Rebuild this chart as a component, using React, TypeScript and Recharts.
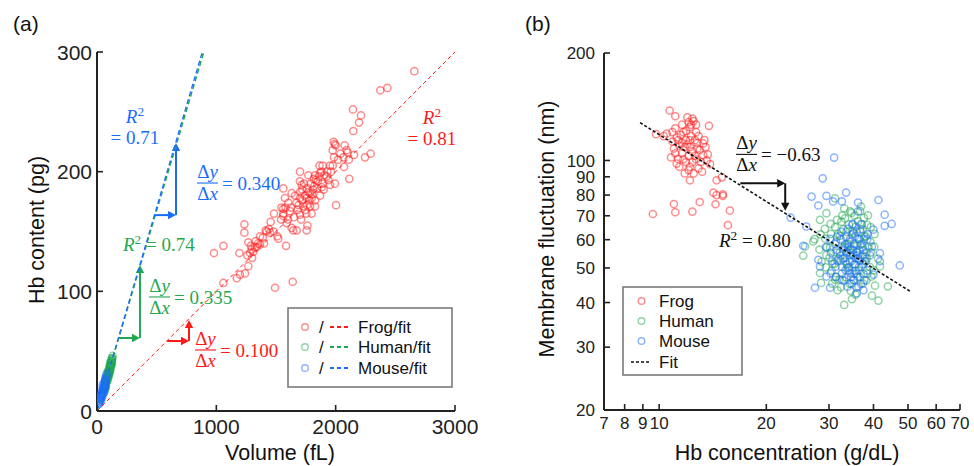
import React from 'react';
import { ScatterChart, Scatter, XAxis, YAxis, ReferenceLine, ReferenceDot, Legend, Customized } from 'recharts';

const RED = '#ff1a1a';
const GREEN = '#1fa84f';
const BLUE = '#1a6cff';
const BLACK = '#111111';
const AXIS = '#222222';
const SANS = "'Liberation Sans', Arial, sans-serif";
const SERIF = "'Liberation Serif', 'Times New Roman', serif";

// ---------- Panel (a): Hb content vs volume ----------
const volumeTicks = [0, 1000, 2000, 3000];
const hbContentTicks = [0, 100, 200, 300];

const frogVolHb: [number, number][] = [
  [2659, 284], [2374, 268], [2433, 270], [2145, 252], [2212, 247], [2196, 241], [2148, 234], [1983, 225], [1992, 223],
  [1975, 218], [2092, 218], [2100, 216], [2154, 214], [2246, 212], [2293, 215], [2064, 212], [1986, 212], [2070, 204],
  [2114, 194], [2003, 172], [1953, 205], [1891, 205], [1869, 199], [1827, 197], [1701, 200], [1771, 197], [1715, 189],
  [1833, 193], [1925, 196], [1561, 186], [1631, 182], [1701, 183], [1785, 182], [1883, 187], [1953, 189], [1994, 190],
  [1701, 178], [1757, 178], [1827, 176], [1603, 174], [1673, 174], [1729, 171], [1785, 171], [1827, 171], [1483, 165],
  [1561, 165], [1617, 167], [1701, 164], [1799, 165], [1542, 160], [1590, 157], [1631, 153], [1673, 151], [1757, 151],
  [1763, 155], [1450, 149], [1414, 151], [1366, 146], [1511, 146], [1519, 144], [1235, 156], [1235, 149], [1268, 141],
  [1324, 137], [1584, 138], [1282, 132], [1310, 133], [1193, 132], [1059, 138], [980, 132], [1059, 107], [1492, 103],
  [1640, 108], [1198, 114], [1171, 111], [1240, 115], [1268, 121], [1296, 135], [1338, 137], [1366, 139], [1422, 150],
  [1561, 169], [1645, 151], [1740, 180], [1760, 186], [1720, 176], [1790, 190], [1810, 185], [1850, 192], [1870, 180],
  [1905, 197], [1930, 200], [1680, 168], [1650, 162], [1600, 160], [1580, 170], [1700, 192], [1760, 172], [1820, 188],
  [1890, 190], [1960, 200], [2020, 210], [1560, 163], [1800, 178], [1745, 168], [1660, 180], [2000, 222], [1350, 140],
  [1390, 145], [1440, 152], [1300, 128], [1260, 130], [1720, 185], [1735, 190], [1770, 183], [1780, 176], [1805, 181],
  [1815, 194], [1845, 186], [1860, 196], [1880, 200], [1900, 185], [1755, 165], [1690, 172], [1710, 160], [1625, 170],
  [1575, 178], [1545, 170], [1865, 205], [1940, 193], [1975, 205], [2040, 215], [2075, 222], [2110, 210], [1480, 150],
  [1455, 158], [1400, 140], [1330, 142], [1290, 138],
];
const humanVolHb: [number, number][] = [
  [58, 16], [62, 18], [65, 19], [68, 21], [70, 20], [72, 22], [74, 23], [76, 24], [78, 25], [80, 24], [82, 26], [84, 27],
  [86, 28], [88, 27], [90, 29], [92, 30], [94, 31], [96, 30], [98, 32], [100, 33], [102, 32], [104, 34], [106, 35],
  [108, 34], [110, 36], [112, 37], [114, 38], [116, 37], [118, 39], [120, 40], [122, 41], [124, 42], [126, 43], [128, 44],
  [131, 46], [66, 23], [70, 25], [75, 21], [80, 28], [85, 25], [88, 31], [92, 27], [96, 34], [100, 30], [104, 37],
  [108, 38], [112, 34], [116, 41], [120, 38], [124, 44], [60, 20], [64, 16], [72, 19], [78, 27], [90, 33], [98, 29],
  [106, 32], [110, 40], [118, 42], [126, 40],
];
const mouseVolHb: [number, number][] = [
  [12, 6], [15, 7], [18, 6], [20, 8], [22, 9], [25, 8], [27, 10], [30, 11], [32, 10], [35, 12], [37, 13], [40, 14],
  [42, 13], [45, 15], [47, 16], [50, 17], [52, 16], [55, 18], [57, 19], [60, 20], [62, 21], [65, 22], [68, 24], [70, 25],
  [72, 26], [75, 27], [78, 29], [80, 31], [25, 12], [30, 14], [35, 9], [40, 17], [45, 12], [50, 20], [55, 15], [60, 24],
  [65, 19], [70, 28], [20, 11], [48, 22],
];
const frogFitA: [number, number][] = [[0, 0], [3000, 300]];
const humanFitA: [number, number][] = [[0, 0], [895, 300]];
const mouseFitA: [number, number][] = [[0, 0], [882, 300]];

// slope triangles (a): [x1,y1,x2,y2]
const blueArrowsA = [[478, 163.7, 662, 163.7], [662, 163.7, 662, 224]];
const greenArrowsA = [[176, 61, 360, 61], [360, 61, 360, 122]];
const redArrowsA = [[587, 58.5, 771, 58.5], [771, 58.5, 771, 76]];

// ---------- Panel (b): membrane fluctuation vs Hb concentration ----------
const concTicks = [7, 8, 9, 10, 20, 30, 40, 50, 60, 70];
const flucTicks = [20, 30, 40, 50, 60, 70, 80, 90, 100, 200];

const frogConcFluc: [number, number][] = [
  [10.7, 138], [11.1, 133], [13.8, 125], [9.8, 118.5], [10.3, 117], [10.5, 119], [11.1, 123], [12.1, 128], [12.5, 129],
  [12.2, 124], [11.7, 120], [12.7, 120], [11.3, 114], [11.9, 114], [12.6, 114], [13.3, 111.6], [13.5, 109], [13.7, 104],
  [13.9, 97.7], [12.7, 100.8], [12.2, 96], [12.1, 94], [11.6, 104.7], [11.1, 104.7], [11.2, 98], [11.7, 100.8],
  [12.2, 109], [11.8, 109], [13.0, 107], [13.3, 103.5], [12.2, 88], [14.5, 88], [15.0, 89.7], [14.2, 81.3], [14.5, 80],
  [15.1, 80.4], [15.1, 79.6], [14.4, 75.4], [13.0, 76.5], [11.0, 75.5], [11.1, 71.6], [12.4, 71.9], [9.6, 70.8],
  [15.8, 72.4], [15.6, 65.9], [11.5, 118], [11.9, 121], [12.3, 117], [12.9, 117], [11.4, 110], [12.0, 111], [12.4, 106],
  [12.8, 112], [11.0, 108], [10.9, 113], [11.6, 112], [12.1, 103], [12.6, 103], [11.9, 99], [12.4, 99], [13.1, 99],
  [10.8, 102], [11.4, 96], [12.9, 95], [13.4, 114], [12.3, 126], [11.6, 126], [12.0, 132], [12.4, 131], [10.9, 120],
  [11.3, 101], [12.8, 108], [13.6, 100], [11.8, 92], [12.5, 92], [13.2, 93], [11.2, 116], [12.2, 114], [12.7, 126],
];
const humanConcFluc: [number, number][] = [
  [33.1, 39.4], [34.8, 40.9], [41.3, 40.5], [39.6, 41.8], [43.9, 44.4], [40.4, 44.6], [25.4, 54.1], [25.7, 57.4],
  [27.1, 59.3], [28.3, 68.2], [29.5, 71.2], [31.2, 78.3], [36.9, 74.3], [34.4, 72], [28.5, 45.4], [28.3, 48.4],
  [31.2, 46.3], [37.9, 53.8], [41.7, 50.5],
  [30.4, 62.3], [31.2, 65.1], [32.5, 67.4], [33.3, 68.8], [34.1, 66.2], [35.4, 70.1], [36.2, 67.5], [37.3, 64.2],
  [38.4, 66.0], [29.3, 60.4], [30.2, 57.1], [31.4, 59.2], [32.2, 61.5], [33.6, 63.1], [34.4, 60.2], [35.1, 62.6],
  [36.5, 60.1], [37.2, 58.4], [38.1, 61.3], [39.2, 59.2], [30.1, 53.4], [31.5, 55.2], [32.3, 54.1], [33.2, 57.3],
  [34.6, 55.1], [35.3, 57.6], [36.1, 54.2], [37.5, 56.1], [38.3, 53.2], [39.4, 55.3], [40.2, 57.4], [29.4, 50.2],
  [30.5, 49.1], [31.1, 51.4], [32.6, 50.3], [33.4, 52.1], [34.2, 49.3], [35.5, 51.2], [36.4, 49.1], [37.1, 50.4],
  [38.5, 48.2], [39.1, 50.3], [31.3, 47.2], [32.1, 46.4], [33.5, 47.1], [34.3, 45.2], [35.2, 46.3], [36.6, 47.1],
  [37.4, 45.3], [38.2, 46.1], [32.4, 44.2], [34.5, 43.1], [36.3, 44.3], [35.6, 42.1], [30.3, 66.4], [32.7, 70.2],
  [34.7, 71.3], [33.1, 73.4], [36.7, 72.1], [31.6, 68.2], [29.2, 64.3], [28.4, 62.1], [27.3, 60.2], [28.2, 56.3],
  [28.6, 52.1], [29.5, 54.3], [30.6, 45.2], [31.7, 43.3], [37.6, 69.1], [38.6, 70.2], [39.3, 65.1], [40.3, 62.2],
  [39.5, 47.3], [40.1, 49.2], [41.2, 53.1], [35.7, 65.3], [36.8, 63.1], [33.7, 58.2], [34.8, 52.3], [32.8, 57.1],
  [31.8, 62.2], [35.8, 55.4], [37.7, 61.2], [36.9, 66.3], [34.9, 63.4], [33.8, 50.1], [30.7, 51.3], [29.6, 57.2],
  [35.9, 48.1], [33.9, 55.3], [34.0, 58.4], [31.9, 53.2], [32.9, 64.1], [37.8, 52.2], [38.7, 57.3], [36.0, 58.2],
];
const mouseConcFluc: [number, number][] = [
  [31.0, 101.9], [28.8, 89.1], [33.5, 81.3], [41.3, 77.5], [26.8, 79.2], [29.5, 79.6], [30.8, 76.8], [32.6, 76.8],
  [28.0, 74.8], [43.0, 70.5], [43.0, 65.6], [45.0, 66.4], [23.4, 69.2], [25.9, 65.3], [25.4, 57.7], [47.4, 50.8],
  [27.4, 44], [30.2, 44], [37.5, 43.3], [35.9, 42.5], [36.2, 76.2], [36.2, 72], [40, 64], [39.6, 57.4], [41.7, 55],
  [41.7, 52.2], [40, 47.9], [28, 52.7], [28.3, 50.5], [29.5, 47.3],
  [33.2, 53.4], [34.3, 52.1], [35.1, 54.3], [33.6, 55.2], [34.5, 56.3], [35.4, 51.2], [32.3, 52.4], [36.2, 53.1],
  [34.1, 50.2], [33.4, 49.3], [35.6, 49.1], [36.4, 50.3], [32.6, 48.2], [34.6, 47.1], [35.2, 46.2], [36.1, 47.3],
  [33.1, 46.1], [31.3, 50.4], [32.2, 55.3], [31.5, 56.1], [33.3, 58.2], [35.3, 58.4], [36.5, 56.2], [37.2, 54.1],
  [37.4, 51.3], [38.1, 52.2], [34.2, 59.3], [33.5, 61.1], [35.5, 61.4], [36.3, 60.2], [32.4, 60.1], [31.2, 58.3],
  [30.4, 55.1], [30.6, 52.2], [37.3, 57.1], [38.2, 55.3], [34.4, 54.2], [33.7, 51.1], [35.7, 53.2], [36.6, 52.4],
  [34.7, 45.2], [35.8, 44.1], [33.8, 44.3], [37.5, 48.1], [38.3, 49.2], [32.7, 46.3], [31.4, 47.2], [34.8, 62.1],
  [35.9, 63.2], [36.7, 64.1], [33.9, 64.3], [37.1, 66.2], [34.9, 66.1], [35.0, 66.4], [36.8, 58.1], [38.4, 60.2],
  [39.1, 54.3], [38.5, 62.1], [37.6, 60.3], [31.6, 61.2], [32.5, 63.1], [30.2, 60.3], [29.4, 57.2], [30.3, 48.3],
  [36.9, 45.1], [37.7, 46.2], [34.0, 57.3], [35.0, 56.1], [33.0, 56.4], [36.0, 55.2], [32.8, 53.1], [31.7, 52.3],
  [34.3, 48.4], [35.3, 48.2],
];
const powerFitB: [number, number][] = [[8.84, 127.6], [50.9, 42.9]];
const blackArrowsB = [[16.9, 86.3, 22.6, 86.3], [22.6, 86.3, 22.6, 72.3]];

const toPts = (a: [number, number][]) => a.map(([x, y]) => ({ x, y }));

// ---------- shapes ----------
const ring = (color: string) => (p: any) => (
  <circle cx={p.cx} cy={p.cy} r={3.6} fill="none" stroke={color} strokeOpacity={0.5} strokeWidth={1.5} />
);
const noDot = () => <g />;

const arrowShape = (color: string) => (p: any) => {
  const x1 = Number(p.x1), y1 = Number(p.y1), x2 = Number(p.x2), y2 = Number(p.y2);
  const dx = x2 - x1, dy = y2 - y1;
  const len = Math.hypot(dx, dy) || 1;
  const ux = dx / len, uy = dy / len;
  const hl = 8, hw = 4.2;
  const bx = x2 - ux * hl, by = y2 - uy * hl;
  return (
    <g>
      <line x1={x1} y1={y1} x2={bx + ux} y2={by + uy} stroke={color} strokeWidth={2} />
      <polygon points={`${x2},${y2} ${bx - uy * hw},${by + ux * hw} ${bx + uy * hw},${by - ux * hw}`} fill={color} />
    </g>
  );
};

const fraction = (color: string, val: string, fs = 19) => (p: any) => {
  const cx = p.cx, cy = p.cy, w = 21;
  return (
    <g fill={color} fontFamily={SERIF} fontSize={fs}>
      <text x={cx + w / 2} y={cy - 5} textAnchor="middle">Δ<tspan fontStyle="italic">y</tspan></text>
      <line x1={cx} x2={cx + w} y1={cy} y2={cy} stroke={color} strokeWidth={1.1} />
      <text x={cx + w / 2} y={cy + 17} textAnchor="middle">Δ<tspan fontStyle="italic">x</tspan></text>
      <text x={cx + w + 4} y={cy + 7}>{val}</text>
    </g>
  );
};

const rSq = (color: string, val: string, anchor: 'start' | 'middle', twoLine: boolean, fs = 19) => (p: any) => {
  const cx = p.cx, cy = p.cy;
  if (twoLine) {
    return (
      <g fill={color} fontFamily={SERIF} fontSize={fs}>
        <text x={cx} y={cy} textAnchor="middle"><tspan fontStyle="italic">R</tspan><tspan fontSize={fs * 0.7} dy={-7}>2</tspan></text>
        <text x={cx} y={cy + 21} textAnchor="middle">{'= ' + val}</text>
      </g>
    );
  }
  return (
    <g fill={color} fontFamily={SERIF} fontSize={fs}>
      <text x={cx} y={cy} textAnchor={anchor}>
        <tspan fontStyle="italic">R</tspan><tspan fontSize={fs * 0.7} dy={-7}>2</tspan><tspan dy={7}>{' = ' + val}</tspan>
      </text>
    </g>
  );
};

const makeXTick = (fs: number) => (p: any) => (
  <g>
    <line x1={p.x} x2={p.x} y1={p.y} y2={p.y - 6} stroke={AXIS} strokeWidth={1.6} />
    <text x={p.x} y={p.y + fs + 2} textAnchor="middle" fontSize={fs} fill="#222" fontFamily={SANS}>{p.payload.value}</text>
  </g>
);
const makeYTick = (fs: number, gap: number) => (p: any) => (
  <g>
    <line x1={p.x} x2={p.x + 6} y1={p.y} y2={p.y} stroke={AXIS} strokeWidth={1.6} />
    <text x={p.x - gap} y={p.y + fs * 0.36} textAnchor="end" fontSize={fs} fill="#222" fontFamily={SANS}>{p.payload.value}</text>
  </g>
);

const LegendA = () => {
  const rows = [
    { c: RED, t: 'Frog/fit', y: 20 },
    { c: GREEN, t: 'Human/fit', y: 40 },
    { c: BLUE, t: 'Mouse/fit', y: 61 },
  ];
  return (
    <svg width={166} height={81} style={{ display: 'block' }}>
      <rect x={1} y={1} width={164} height={79} fill="#fff" stroke="#7a7a7a" strokeWidth={1.6} />
      {rows.map((r) => (
        <g key={r.t}>
          <circle cx={18} cy={r.y} r={3.3} fill="none" stroke={r.c} strokeOpacity={0.5} strokeWidth={1.4} />
          <text x={32} y={r.y + 6} fontSize={17} fontFamily={SANS} fill="#111">/</text>
          <line x1={43} x2={62} y1={r.y} y2={r.y} stroke={r.c} strokeWidth={1.8} strokeDasharray="4 3" />
          <text x={71} y={r.y + 6} fontSize={17} fontFamily={SANS} fill="#111">{r.t}</text>
        </g>
      ))}
    </svg>
  );
};

const LegendB = () => {
  const rows = [
    { c: RED, t: 'Frog', y: 15 },
    { c: GREEN, t: 'Human', y: 35 },
    { c: BLUE, t: 'Mouse', y: 55 },
  ];
  return (
    <svg width={121} height={90} style={{ display: 'block' }}>
      <rect x={1} y={1} width={119} height={88} fill="#fff" stroke="#7a7a7a" strokeWidth={1.6} />
      {rows.map((r) => (
        <g key={r.t}>
          <circle cx={19.5} cy={r.y} r={3.3} fill="none" stroke={r.c} strokeOpacity={0.5} strokeWidth={1.4} />
          <text x={37} y={r.y + 6} fontSize={17} fontFamily={SANS} fill="#111">{r.t}</text>
        </g>
      ))}
      <line x1={9} x2={29} y1={76} y2={76} stroke={BLACK} strokeWidth={1.6} strokeDasharray="3 2" />
      <text x={37} y={82} fontSize={17} fontFamily={SANS} fill="#111">Fit</text>
    </svg>
  );
};

const TitlesA = () => (
  <g fontFamily={SANS} fill="#111">
    <text x={13} y={31} fontSize={21}>(a)</text>
    <text x={44} y={230} fontSize={21.5} textAnchor="middle" transform="rotate(-90 44 230)">Hb content (pg)</text>
    <text x={280} y={460} fontSize={21.5} textAnchor="middle">Volume (fL)</text>
  </g>
);
const TitlesB = () => (
  <g fontFamily={SANS} fill="#111">
    <text x={35} y={31} fontSize={21}>(b)</text>
    <text x={64} y={229} fontSize={21.5} textAnchor="middle" transform="rotate(-90 64 229)">Membrane fluctuation (nm)</text>
    <text x={297} y={460} fontSize={21.5} textAnchor="middle">Hb concentration (g/dL)</text>
  </g>
);

const seg = (a: number[]) => [{ x: a[0], y: a[1] }, { x: a[2], y: a[3] }];

export default function App() {
  return (
    <div style={{ position: 'absolute', left: 0, top: 0, width: 974, height: 466, background: '#fff' }}>
      <div style={{ position: 'absolute', left: 0, top: 0 }}>
        <ScatterChart width={490} height={466} margin={{ top: 52, right: 35, bottom: 5, left: 5 }}>
          <XAxis type="number" dataKey="x" domain={[0, 3000]} ticks={volumeTicks} interval={0} allowDataOverflow
            height={50} tickSize={0} tickMargin={0} tickLine={false} axisLine={{ stroke: AXIS, strokeWidth: 2 }} tick={makeXTick(21)} />
          <YAxis type="number" dataKey="y" domain={[0, 300]} ticks={hbContentTicks} interval={0} allowDataOverflow
            width={92} tickSize={0} tickMargin={0} tickLine={false} axisLine={{ stroke: AXIS, strokeWidth: 2 }} tick={makeYTick(21, 5)} />
          <Scatter data={toPts(frogVolHb)} shape={ring(RED)} isAnimationActive={false} />
          <Scatter data={toPts(humanVolHb)} shape={ring(GREEN)} isAnimationActive={false} />
          <Scatter data={toPts(mouseVolHb)} shape={ring(BLUE)} isAnimationActive={false} />
          <Scatter data={toPts(frogFitA)} shape={noDot} line={{ stroke: RED, strokeWidth: 1, strokeDasharray: '4 3' }} lineType="joint" isAnimationActive={false} />
          <Scatter data={toPts(humanFitA)} shape={noDot} line={{ stroke: GREEN, strokeWidth: 1.5, strokeDasharray: '5 3' }} lineType="joint" isAnimationActive={false} />
          <Scatter data={toPts(mouseFitA)} shape={noDot} line={{ stroke: BLUE, strokeWidth: 1.3, strokeDasharray: '5 3' }} lineType="joint" isAnimationActive={false} />
          {blueArrowsA.map((a, i) => (
            <ReferenceLine key={'ba' + i} segment={seg(a)} shape={arrowShape(BLUE)} ifOverflow="visible" />
          ))}
          {greenArrowsA.map((a, i) => (
            <ReferenceLine key={'ga' + i} segment={seg(a)} shape={arrowShape(GREEN)} ifOverflow="visible" />
          ))}
          {redArrowsA.map((a, i) => (
            <ReferenceLine key={'ra' + i} segment={seg(a)} shape={arrowShape(RED)} ifOverflow="visible" />
          ))}
          <ReferenceDot x={838} y={190.5} shape={fraction(BLUE, '= 0.340')} ifOverflow="visible" />
          <ReferenceDot x={436} y={95.3} shape={fraction(GREEN, '= 0.335')} ifOverflow="visible" />
          <ReferenceDot x={821} y={51} shape={fraction(RED, '= 0.100')} ifOverflow="visible" />
          <ReferenceDot x={318} y={240.7} shape={rSq(BLUE, '0.71', 'middle', true)} ifOverflow="visible" />
          <ReferenceDot x={2807} y={239.8} shape={rSq(RED, '0.81', 'middle', true)} ifOverflow="visible" />
          <ReferenceDot x={218} y={133.7} shape={rSq(GREEN, '0.74', 'start', false)} ifOverflow="visible" />
          <Legend layout="horizontal" verticalAlign="middle" align="center"
            wrapperStyle={{ position: 'absolute', left: 287, top: 307, width: 166, height: 81 }} content={() => <LegendA />} />
          <Customized component={TitlesA} />
        </ScatterChart>
      </div>
      <div style={{ position: 'absolute', left: 490, top: 0 }}>
        <ScatterChart width={484} height={466} margin={{ top: 53, right: 14, bottom: 6, left: 4 }}>
          <XAxis type="number" dataKey="x" scale="log" domain={[7, 70]} ticks={concTicks} interval={0} allowDataOverflow
            height={50} tickSize={0} tickMargin={0} tickLine={false} axisLine={{ stroke: AXIS, strokeWidth: 2 }} tick={makeXTick(17)} />
          <YAxis type="number" dataKey="y" scale="log" domain={[20, 200]} ticks={flucTicks} interval={0} allowDataOverflow
            width={110} tickSize={0} tickMargin={0} tickLine={false} axisLine={{ stroke: AXIS, strokeWidth: 2 }} tick={makeYTick(17, 9)} />
          <Scatter data={toPts(frogConcFluc)} shape={ring(RED)} isAnimationActive={false} />
          <Scatter data={toPts(humanConcFluc)} shape={ring(GREEN)} isAnimationActive={false} />
          <Scatter data={toPts(mouseConcFluc)} shape={ring(BLUE)} isAnimationActive={false} />
          <Scatter data={toPts(powerFitB)} shape={noDot} line={{ stroke: BLACK, strokeWidth: 1.6, strokeDasharray: '3 2' }} lineType="joint" isAnimationActive={false} />
          {blackArrowsB.map((a, i) => (
            <ReferenceLine key={'ka' + i} segment={seg(a)} shape={arrowShape(BLACK)} ifOverflow="visible" />
          ))}
          <ReferenceDot x={16.44} y={104} shape={fraction(BLACK, '= −0.63')} ifOverflow="visible" />
          <ReferenceDot x={14.72} y={57.2} shape={rSq(BLACK, '0.80', 'start', false)} ifOverflow="visible" />
          <Legend layout="horizontal" verticalAlign="middle" align="center"
            wrapperStyle={{ position: 'absolute', left: 132, top: 286, width: 121, height: 90 }} content={() => <LegendB />} />
          <Customized component={TitlesB} />
        </ScatterChart>
      </div>
    </div>
  );
}
